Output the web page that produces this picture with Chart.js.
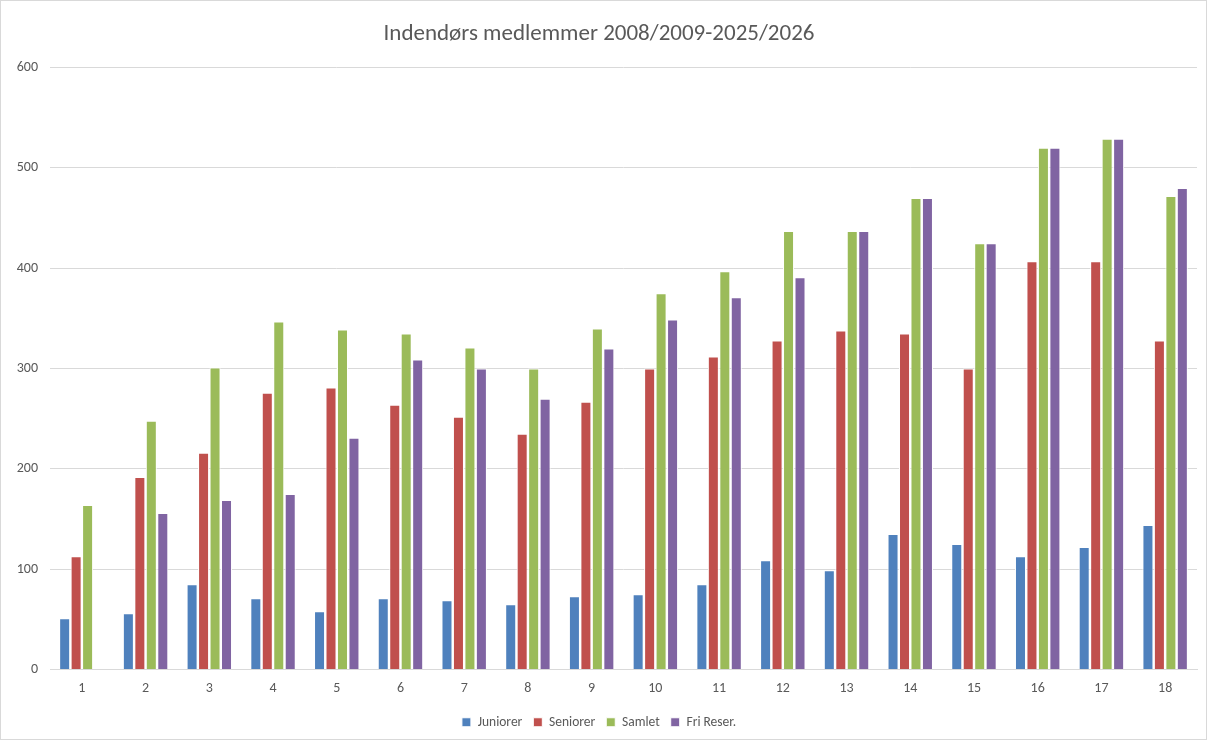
<!DOCTYPE html>
<html>
<head>
<meta charset="utf-8">
<script src="https://cdn.jsdelivr.net/npm/chart.js@4/dist/chart.umd.min.js"></script>
<style>
html,body{margin:0;padding:0;background:#fff;}
#wrap{position:absolute;left:0;top:0;width:1205px;height:738px;border:1px solid #d9d9d9;}
canvas{display:block;}
</style>
</head>
<body>
<div id="wrap"><canvas id="c" width="1205" height="738"></canvas></div>
<script>
const categories = ["1","2","3","4","5","6","7","8","9","10","11","12","13","14","15","16","17","18"];
const juniorer = [51,56,85,71,58,71,69,65,73,75,85,109,99,135,125,113,122,144];
const seniorer = [113,192,216,276,281,264,252,235,267,300,312,328,338,335,300,407,407,328];
const samlet   = [164,248,301,347,339,335,321,300,340,375,397,437,437,470,425,520,529,472];
const friReser = [null,156,169,175,231,309,300,270,320,349,371,391,437,470,425,520,529,480];
const seriesNames = ["Juniorer","Seniorer","Samlet","Fri Reser."];
const colors = ["#4F81BD","#C0504D","#9BBB59","#8064A2"];
const titleText = "Indendørs medlemmer 2008/2009-2025/2026";

const font = "Calibri, Carlito, 'Open Sans', 'Liberation Sans', sans-serif";
const data = [juniorer, seniorer, samlet, friReser];

new Chart(document.getElementById('c'), {
  type: 'bar',
  data: {
    labels: categories,
    datasets: data.map((d,i)=>({
      label: seriesNames[i],
      data: d,
      backgroundColor: colors[i],
      borderColor: '#ffffff',
      borderWidth: 1,
      categoryPercentage: 0.72,
      barPercentage: 0.96
    }))
  },
  options: {
    responsive: false,
    animation: false,
    layout: { padding: { left: 0, right: 9, top: 8, bottom: 0 } },
    plugins: {
      title: {
        display: true,
        text: titleText,
        color: '#595959',
        font: { family: font, size: 23, weight: 'normal' },
        padding: { top: 11, bottom: 20 }
      },
      legend: {
        position: 'bottom',
        labels: {
          boxWidth: 9, boxHeight: 9, color: '#595959',
          font: { family: font, size: 13.5 },
          padding: 11
        }
      },
      tooltip: { enabled: false }
    },
    scales: {
      x: {
        afterFit: (s) => { s.height = 35; },
        grid: { display: false, drawTicks: false },
        border: { display: true, color: '#d9d9d9', width: 1 },
        ticks: { color: '#595959', font: { family: font, size: 14 }, padding: 11 }
      },
      y: {
        min: 0, max: 600,
        afterFit: (s) => { s.width = 49; },
        ticks: { stepSize: 100, color: '#595959', font: { family: font, size: 14 }, padding: 12 },
        grid: { color: '#d9d9d9', drawTicks: false },
        border: { display: false }
      }
    }
  }
});
</script>
</body>
</html>
